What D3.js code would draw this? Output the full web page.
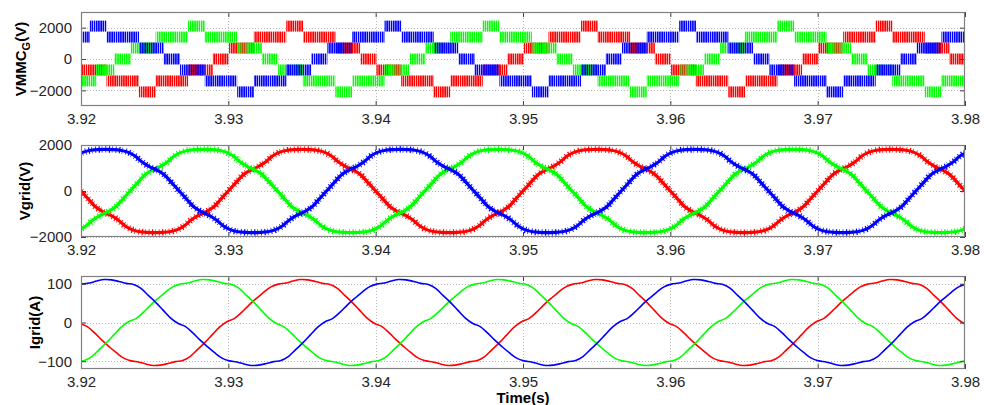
<!DOCTYPE html>
<html><head><meta charset="utf-8">
<script src="https://cdn.jsdelivr.net/npm/d3@7"></script>
<style>
body{margin:0;background:#fff;}
text{font-family:"Liberation Sans",Arial,Helvetica,sans-serif;}
</style></head><body>
<svg id="chart" width="984" height="405"></svg>
<script>
// ---------- data ----------
const timeTicks = [3.92, 3.93, 3.94, 3.95, 3.96, 3.97, 3.98];
const timeDomain = [3.92, 3.98];
const phaseNames = ["a", "b", "c"];
const phaseColors = ["#ff0000", "#00ff00", "#0000ff"];

// MMC output voltage: level boundaries (V) and, per phase, switching edges (s) + level index per interval
const mmcBounds = [-2450, -1750, -1050, -350, 350, 1050, 1750, 2450];
const mmcTicks = [-2000, 0, 2000];
const mmcEdgesA = [3.91895,3.92005,3.92173,3.92393,3.92507,3.92727,3.92895,3.93005,3.93173,3.93393,3.93507,3.93727,3.93895,3.94005,3.94173,3.94393,3.94507,3.94727,3.94895,3.95005,3.95173,3.95393,3.95507,3.95727,3.95895,3.96005,3.96173,3.96393,3.96507,3.96727,3.96895,3.97005,3.97173,3.97393,3.97507,3.97727,3.97895,3.98005];
const mmcLevelA = [0,-1,-2,-3,-2,-1,0,1,2,3,2,1, 0,-1,-2,-3,-2,-1,0,1,2,3,2,1, 0,-1,-2,-3,-2,-1,0,1,2,3,2,1, 0];
const mmcEdgesB = [3.91983,3.92103,3.92228,3.92338,3.92506,3.92726,3.92840,3.93060,3.93228,3.93338,3.93506,3.93726,3.93840,3.94060,3.94228,3.94338,3.94506,3.94726,3.94840,3.95060,3.95228,3.95338,3.95506,3.95726,3.95840,3.96060,3.96228,3.96338,3.96506,3.96726,3.96840,3.97060,3.97228,3.97338,3.97506,3.97726,3.97840,3.98060];
const mmcLevelB = [-2,-1,0,1,2,3,2,1,0,-1,-2,-3, -2,-1,0,1,2,3,2,1,0,-1,-2,-3, -2,-1,0,1,2,3,2,1,0,-1,-2,-3, -2];
const mmcEdgesC = [3.91840,3.92060,3.92174,3.92394,3.92562,3.92672,3.92840,3.93060,3.93174,3.93394,3.93562,3.93672,3.93840,3.94060,3.94174,3.94394,3.94562,3.94672,3.94840,3.95060,3.95174,3.95394,3.95562,3.95672,3.95840,3.96060,3.96174,3.96394,3.96562,3.96672,3.96840,3.97060,3.97174,3.97394,3.97562,3.97672,3.97840,3.98060];
const mmcLevelC = [2,3,2,1,0,-1,-2,-3,-2,-1,0,1, 2,3,2,1,0,-1,-2,-3,-2,-1,0,1, 2,3,2,1,0,-1,-2,-3,-2,-1,0,1, 2];

// Grid voltage (V) and grid current (A), sampled every 0.5 ms from each phase's first sample time
const sampleStep = 0.0005;
const vgridTicks = [-2000, 0, 2000];
const vgridStart = [3.92, 3.919833, 3.919667];
const vgridA = [0,-350,-700,-900,-1050,-1250,-1520,-1690,-1770,-1800,-1810,-1800,-1770,-1690,-1520,-1250,-1050,-900,-700,-350,0,350,700,900,1050,1250,1520,1690,1770,1800,1810,1800,1770,1690,1520,1250,1050,900,700,350,
0,-350,-700,-900,-1050,-1250,-1520,-1690,-1770,-1800,-1810,-1800,-1770,-1690,-1520,-1250,-1050,-900,-700,-350,0,350,700,900,1050,1250,1520,1690,1770,1800,1810,1800,1770,1690,1520,1250,1050,900,700,350,
0,-350,-700,-900,-1050,-1250,-1520,-1690,-1770,-1800,-1810,-1800,-1770,-1690,-1520,-1250,-1050,-900,-700,-350,0,350,700,900,1050,1250,1520,1690,1770,1800,1810,1800,1770,1690,1520,1250,1050,900,700,350,
0,-350];
const vgridB = [-1690,-1520,-1250,-1050,-900,-700,-350,0,350,700,900,1050,1250,1520,1690,1770,1800,1810,1800,1770,1690,1520,1250,1050,900,700,350,
0,-350,-700,-900,-1050,-1250,-1520,-1690,-1770,-1800,-1810,-1800,-1770,-1690,-1520,-1250,-1050,-900,-700,-350,0,350,700,900,1050,1250,1520,1690,1770,1800,1810,1800,1770,1690,1520,1250,1050,900,700,350,
0,-350,-700,-900,-1050,-1250,-1520,-1690,-1770,-1800,-1810,-1800,-1770,-1690,-1520,-1250,-1050,-900,-700,-350,0,350,700,900,1050,1250,1520,1690,1770,1800,1810,1800,1770,1690,1520,1250,1050,900,700,350,
0,-350,-700,-900,-1050,-1250,-1520,-1690,-1770,-1800,-1810,-1800,-1770,-1690,-1520];
const vgridC = [1520,1690,1770,1800,1810,1800,1770,1690,1520,1250,1050,900,700,350,
0,-350,-700,-900,-1050,-1250,-1520,-1690,-1770,-1800,-1810,-1800,-1770,-1690,-1520,-1250,-1050,-900,-700,-350,0,350,700,900,1050,1250,1520,1690,1770,1800,1810,1800,1770,1690,1520,1250,1050,900,700,350,
0,-350,-700,-900,-1050,-1250,-1520,-1690,-1770,-1800,-1810,-1800,-1770,-1690,-1520,-1250,-1050,-900,-700,-350,0,350,700,900,1050,1250,1520,1690,1770,1800,1810,1800,1770,1690,1520,1250,1050,900,700,350,
0,-350,-700,-900,-1050,-1250,-1520,-1690,-1770,-1800,-1810,-1800,-1770,-1690,-1520,-1250,-1050,-900,-700,-350,0,350,700,900,1050,1250,1520,1690];

const igridTicks = [-100, 0, 100];
const igridStart = [3.9199, 3.91973, 3.91957];
const igridA = [-2,-10,-26,-45,-62,-78,-92,-99,-102,-107,-111,-110,-106,-101,-98,-88,-70,-52,-32,-12,2,10,26,45,62,78,92,99,102,107,111,110,106,101,98,88,70,52,32,12,
-2,-10,-26,-45,-62,-78,-92,-99,-102,-107,-111,-110,-106,-101,-98,-88,-70,-52,-32,-12,2,10,26,45,62,78,92,99,102,107,111,110,106,101,98,88,70,52,32,12,
-2,-10,-26,-45,-62,-78,-92,-99,-102,-107,-111,-110,-106,-101,-98,-88,-70,-52,-32,-12,2,10,26,45,62,78,92,99,102,107,111,110,106,101,98,88,70,52,32,12,
-2,-10];
const igridB = [-101,-98,-88,-70,-52,-32,-12,2,10,26,45,62,78,92,99,102,107,111,110,106,101,98,88,70,52,32,12,
-2,-10,-26,-45,-62,-78,-92,-99,-102,-107,-111,-110,-106,-101,-98,-88,-70,-52,-32,-12,2,10,26,45,62,78,92,99,102,107,111,110,106,101,98,88,70,52,32,12,
-2,-10,-26,-45,-62,-78,-92,-99,-102,-107,-111,-110,-106,-101,-98,-88,-70,-52,-32,-12,2,10,26,45,62,78,92,99,102,107,111,110,106,101,98,88,70,52,32,12,
-2,-10,-26,-45,-62,-78,-92,-99,-102,-107,-111,-110,-106,-101,-98];
const igridC = [92,99,102,107,111,110,106,101,98,88,70,52,32,12,
-2,-10,-26,-45,-62,-78,-92,-99,-102,-107,-111,-110,-106,-101,-98,-88,-70,-52,-32,-12,2,10,26,45,62,78,92,99,102,107,111,110,106,101,98,88,70,52,32,12,
-2,-10,-26,-45,-62,-78,-92,-99,-102,-107,-111,-110,-106,-101,-98,-88,-70,-52,-32,-12,2,10,26,45,62,78,92,99,102,107,111,110,106,101,98,88,70,52,32,12,
-2,-10,-26,-45,-62,-78,-92,-99,-102,-107,-111,-110,-106,-101,-98,-88,-70,-52,-32,-12,2,10,26,45,62,78,92,99];

// ---------- layout ----------
const svg = d3.select("#chart");
const left = 81, right = 965;
const x = d3.scaleLinear().domain(timeDomain).range([left, right]);
const frameColor = "#808080", tickColor = "#404040", gridColor = "#b8b8b8", labelColor = "#262626";

const defs = svg.append("defs");
// vertical hatch used for the PWM-switched level bands
phaseColors.forEach((c, i) => {
  const p = defs.append("pattern").attr("id", "hatch" + i)
    .attr("patternUnits", "userSpaceOnUse").attr("width", 2.2).attr("height", 10)
    .attr("x", i * 0.7);
  p.append("rect").attr("width", 1.6).attr("height", 10).attr("fill", c);
});

function panel(cfg) {
  const y = d3.scaleLinear().domain(cfg.domain).range([cfg.bottom, cfg.top]);
  const g = svg.append("g");
  const clipId = "clip" + cfg.id;
  defs.append("clipPath").attr("id", clipId).append("rect")
    .attr("x", left).attr("y", cfg.top).attr("width", right - left).attr("height", cfg.bottom - cfg.top);

  // dotted grid
  const grid = g.append("g").attr("stroke", gridColor).attr("stroke-dasharray", "1,2").attr("stroke-width", 1);
  grid.selectAll("line.v").data(timeTicks.slice(1, -1)).join("line")
    .attr("x1", d => Math.round(x(d)) + 0.5).attr("x2", d => Math.round(x(d)) + 0.5)
    .attr("y1", cfg.top).attr("y2", cfg.bottom);
  grid.selectAll("line.h").data(cfg.ticks).join("line")
    .attr("x1", left).attr("x2", right)
    .attr("y1", d => Math.round(y(d)) + 0.5).attr("y2", d => Math.round(y(d)) + 0.5);

  const plot = g.append("g").attr("clip-path", `url(#${clipId})`);
  cfg.draw(plot, y);

  // axes with inward ticks on all four sides
  const fmtX = d3.format(".2f");
  const axB = g.append("g").attr("transform", `translate(0,${cfg.bottom})`)
    .call(d3.axisBottom(x).tickValues(timeTicks).tickFormat(fmtX).tickSizeInner(-5).tickSizeOuter(0).tickPadding(7));
  const axT = g.append("g").attr("transform", `translate(0,${cfg.top})`)
    .call(d3.axisTop(x).tickValues(timeTicks).tickFormat("").tickSizeInner(-5).tickSizeOuter(0));
  const axL = g.append("g").attr("transform", `translate(${left},0)`)
    .call(d3.axisLeft(y).tickValues(cfg.ticks).tickFormat(d3.format("d")).tickSizeInner(-5).tickSizeOuter(0).tickPadding(9));
  const axR = g.append("g").attr("transform", `translate(${right},0)`)
    .call(d3.axisRight(y).tickValues(cfg.ticks).tickFormat("").tickSizeInner(-5).tickSizeOuter(0));
  [axB, axT, axL, axR].forEach(a => {
    a.select(".domain").remove();
    a.selectAll(".tick line").attr("stroke", tickColor);
    a.selectAll("text").attr("fill", labelColor).style("font-size", "15px")
      .style("font-family", '"Liberation Sans", Arial, sans-serif');
  });
  axB.selectAll("text").attr("dy", "0.71em");
  g.append("rect").attr("x", left + 0.5).attr("y", cfg.top + 0.5)
    .attr("width", right - left - 1).attr("height", cfg.bottom - cfg.top - 1)
    .attr("fill", "none").attr("stroke", frameColor).attr("stroke-width", 1.2);

  // y label
  const t = svg.append("text").attr("transform", `translate(${cfg.labelX},${(cfg.top + cfg.bottom) / 2}) rotate(-90)`)
    .attr("text-anchor", "middle").attr("font-weight", "bold").attr("font-size", 15).attr("fill", "#000");
  cfg.label(t);
}

function sampled(values, t0) {
  return values.map((v, i) => [t0 + i * sampleStep, v]);
}

// Panel 1: modular multilevel converter phase voltages
panel({
  id: 1, top: 12, bottom: 106, domain: [-3000, 3000], ticks: mmcTicks, labelX: 26,
  label: t => { t.append("tspan").text("VMMC"); t.append("tspan").attr("font-size", 11).attr("dy", 4).text("G"); t.append("tspan").attr("dy", -4).text("(V)"); },
  draw: (g, y) => {
    const sets = [[mmcEdgesA, mmcLevelA], [mmcEdgesB, mmcLevelB], [mmcEdgesC, mmcLevelC]];
    sets.forEach(([edges, levels], p) => {
      const bands = levels.map((lv, i) => ({ t0: edges[i], t1: edges[i + 1], lo: mmcBounds[lv + 3], hi: mmcBounds[lv + 4] }));
      g.append("g").selectAll("rect").data(bands).join("rect")
        .attr("x", d => x(d.t0)).attr("width", d => x(d.t1) - x(d.t0))
        .attr("y", d => y(d.hi)).attr("height", d => y(d.lo) - y(d.hi))
        .attr("fill", `url(#hatch${p})`);
    });
  }
});

// Panel 2: grid voltages (thick core plus a fine switching ripple texture)
panel({
  id: 2, top: 145, bottom: 237, domain: [-2000, 2000], ticks: vgridTicks, labelX: 30,
  label: t => t.text("Vgrid(V)"),
  draw: (g, y) => {
    const line = d3.line().x(d => x(d[0])).y(d => y(d[1])).curve(d3.curveCatmullRom.alpha(0.5));
    [vgridA, vgridB, vgridC].forEach((vals, p) => {
      const d = line(sampled(vals, vgridStart[p]));
      g.append("path").attr("d", d).attr("fill", "none").attr("stroke", phaseColors[p]).attr("stroke-width", 3.2);
      g.append("path").attr("d", d).attr("fill", "none").attr("stroke", phaseColors[p])
        .attr("stroke-width", 6.5).attr("stroke-dasharray", "0.8,2.6,1.2,1.9,0.6,3.1");
    });
  }
});

// Panel 3: grid currents
panel({
  id: 3, top: 276, bottom: 369, domain: [-120, 120], ticks: igridTicks, labelX: 40,
  label: t => t.text("Igrid(A)"),
  draw: (g, y) => {
    const line = d3.line().x(d => x(d[0])).y(d => y(d[1])).curve(d3.curveCatmullRom.alpha(0.5));
    [igridA, igridB, igridC].forEach((vals, p) => {
      g.append("path").attr("d", line(sampled(vals, igridStart[p])))
        .attr("fill", "none").attr("stroke", phaseColors[p]).attr("stroke-width", 1.6);
    });
  }
});

svg.append("text").attr("x", (left + right) / 2).attr("y", 403).attr("text-anchor", "middle")
  .attr("font-weight", "bold").attr("font-size", 15).attr("fill", "#000").text("Time(s)");
</script></body></html>
